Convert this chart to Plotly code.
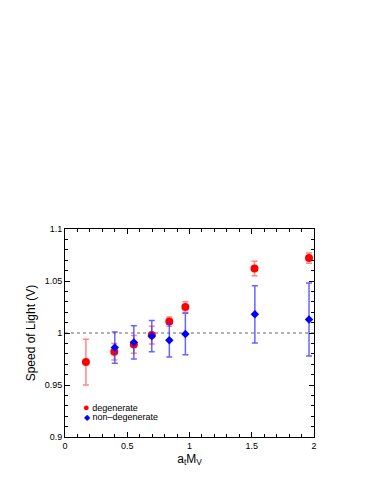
import plotly.graph_objects as go

# degenerate
deg_x = [0.168, 0.396, 0.553, 0.697, 0.838, 0.967, 1.522, 1.960]
deg_y = [0.972, 0.982, 0.989, 0.998, 1.011, 1.025, 1.062, 1.072]
deg_err = [0.022, 0.008, 0.0085, 0.0085, 0.0045, 0.005, 0.007, 0.005]

# non-degenerate
nondeg_x = [0.400, 0.553, 0.697, 0.838, 0.967, 1.525, 1.960]
nondeg_y = [0.986, 0.991, 0.997, 0.993, 0.999, 1.018, 1.013]
nondeg_err = [0.015, 0.016, 0.015, 0.016, 0.020, 0.0275, 0.035]

fig = go.Figure()

# reference line at 1
fig.add_shape(type="line", xref="paper", x0=0, x1=1, y0=1, y1=1,
              line=dict(color="#999999", width=1.3, dash="dot"), layer="below")

fig.add_trace(go.Scatter(
    x=deg_x, y=deg_y, mode="markers", name="degenerate",
    marker=dict(color="#ff0000", size=8, symbol="circle"),
    error_y=dict(type="data", array=deg_err, color="rgba(255,70,70,0.65)",
                 thickness=1.5, width=3),
    showlegend=False,
))
fig.add_trace(go.Scatter(
    x=nondeg_x, y=nondeg_y, mode="markers", name="non-degenerate",
    marker=dict(color="#0000ff", size=6.5, symbol="diamond"),
    error_y=dict(type="data", array=nondeg_err, color="rgba(50,50,255,0.75)",
                 thickness=1.5, width=3),
    showlegend=False,
))

# legend drawn as text
fig.add_annotation(xref="paper", yref="paper", x=0.065, y=0.146, xanchor="left", yanchor="middle",
                   showarrow=False, font=dict(size=9),
                   text="<span style='color:#ff0000;font-size:11px'>●</span> degenerate")
fig.add_annotation(xref="paper", yref="paper", x=0.068, y=0.098, xanchor="left", yanchor="middle",
                   showarrow=False, font=dict(size=9),
                   text="<span style='color:#0000ff;font-size:8px'>◆</span> non\u2013degenerate")

axis_common = dict(
    showline=True, linecolor="black", linewidth=1, mirror="ticks",
    ticks="inside", ticklen=5, tickcolor="black",
    showgrid=False, zeroline=False,
    tickfont=dict(size=9, color="black"),
)

fig.update_layout(
    width=382, height=494,
    paper_bgcolor="white", plot_bgcolor="white",
    font=dict(family="Liberation Sans, Arial, sans-serif", color="black"),
    margin=dict(l=57, r=76, t=221, b=65),
    xaxis=dict(range=[0, 2], dtick=0.5, tick0=0,
               title=dict(text="a<sub>t</sub>M<sub>V</sub>", font=dict(size=12), standoff=4),
               minor=dict(ticks="inside", ticklen=3, tickcolor="black", dtick=0.1),
               **axis_common),
    yaxis=dict(range=[0.9, 1.1], dtick=0.05, tick0=0.9,
               title=dict(text="Speed of Light (V)", font=dict(size=12), standoff=6),
               minor=dict(ticks="inside", ticklen=3, tickcolor="black", dtick=0.01),
               **axis_common),
    showlegend=False,
)

fig.write_html("out.html")
